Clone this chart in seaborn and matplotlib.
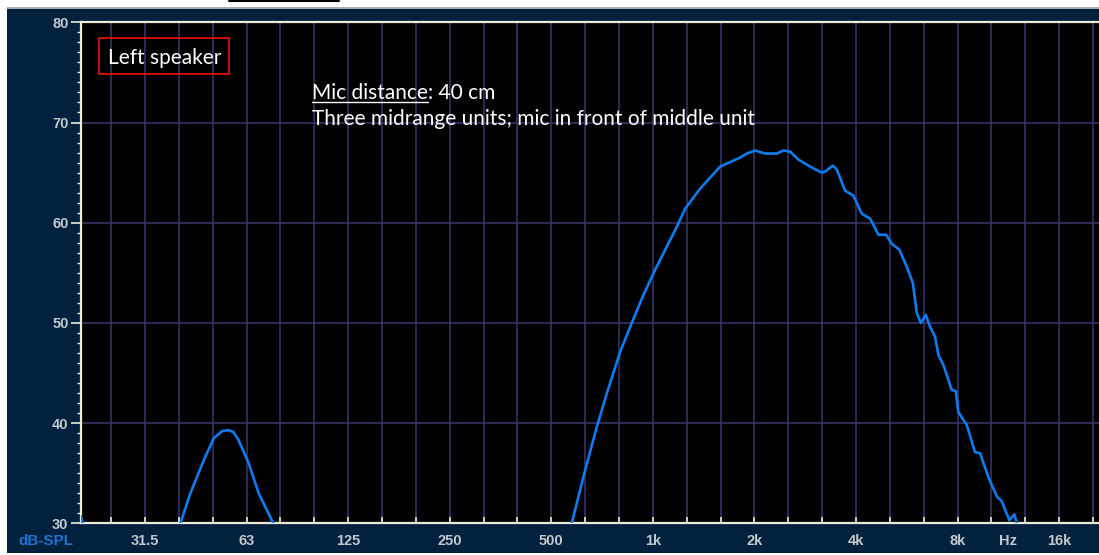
import matplotlib
matplotlib.use("Agg")
import numpy as np
import pandas as pd
import matplotlib.pyplot as plt
import seaborn as sns
from matplotlib.ticker import FixedLocator, MultipleLocator, NullFormatter
from matplotlib.patches import Rectangle
from matplotlib.lines import Line2D

# frequency response (Hz, dB-SPL)
freq_hz = [20.2, 21.5, 30, 38.5, 39.8, 42.6, 46.7, 50.0, 52.9, 55.3, 57.2, 59.2,
           63.4, 67.9, 70.2, 75.5, 80, 200, 500, 560, 575, 630, 682, 731, 800,
           866, 938, 1016, 1178, 1247, 1381, 1583, 1657, 1814, 1899, 2010, 2152,
           2331, 2438, 2552, 2700, 2860, 2924, 3168, 3240, 3414, 3509, 3714, 3929,
           4161, 4404, 4661, 4912, 5107, 5380, 5657, 5894, 6057, 6225, 6441, 6633,
           6863, 7019, 7263, 7691, 7903, 8044, 8519, 9015, 9327, 9870, 10451,
           10814, 11391, 11786, 11981, 12500, 21000]
spl_db = [30.7, 27.0, 25.0, 28.3, 30.0, 33.0, 36.3, 38.5, 39.2, 39.3, 39.1, 38.3,
          36.0, 33.0, 32.0, 29.8, 27.5, 24.0, 25.0, 28.5, 30.0, 35.3, 39.6, 43.0, 47.1,
          50.0, 52.8, 55.3, 59.6, 61.4, 63.4, 65.6, 65.9, 66.5, 66.9, 67.2, 66.9,
          66.9, 67.2, 67.1, 66.3, 65.8, 65.6, 65.0, 65.1, 65.7, 65.3, 63.2, 62.7,
          60.9, 60.4, 58.8, 58.8, 57.9, 57.3, 55.6, 54.0, 51.0, 50.0, 50.8, 49.6,
          48.6, 46.8, 45.8, 43.3, 43.2, 41.1, 39.8, 37.1, 37.0, 34.6, 32.7,
          32.2, 30.3, 30.9, 30.0, 28.0, 24.0]

octave_ticks = [31.25, 62.5, 125, 250, 500, 1000, 2000, 4000, 8000, 16000]
octave_labels = ["31.5", "63", "125", "250", "500", "1k", "2k", "4k", "8k", "16k"]
db_ticks = [30, 40, 50, 60, 70, 80]

W, H = 1099, 555
NAVY = "#02213f"
CREAM = "#ecebd8"
GRID = "#37376f"
CURVE = "#0c7cf0"
LABEL = "#c4c7cb"
NOTE_SIZE = 15


def fx(px):
    return px / W


def fy(py):
    return 1 - py / H


sns.set_style("dark")
plt.rcParams["font.family"] = ["Lato", "DejaVu Sans"]

fig = plt.figure(figsize=(W / 100, H / 100), dpi=100, facecolor="white")

# navy panel behind the graph, with a thin grey rim on top
fig.patches.append(Rectangle((fx(7), fy(553)), 1, (553 - 9) / H, transform=fig.transFigure,
                             facecolor=NAVY, edgecolor="none", zorder=-10))
fig.patches.append(Rectangle((fx(7), fy(9)), 1, 2.5 / H, transform=fig.transFigure,
                             facecolor="#a9adb2", edgecolor="none", zorder=-9))
fig.lines.append(Line2D([fx(229), fx(339)], [fy(1), fy(1)], transform=fig.transFigure,
                        color="black", linewidth=1.5))

ax = fig.add_axes([fx(81), fy(523.3), 1 - fx(81), (523.3 - 22.3) / H])
ax.set_facecolor("black")
ax.set_xscale("log")

df = pd.DataFrame({"freq": freq_hz, "spl": spl_db})
sns.lineplot(data=df, x="freq", y="spl", ax=ax, color=CURVE, linewidth=1.9,
             sort=False, estimator=None, zorder=3)

ax.set_xlim(20.2, 21000)
ax.set_ylim(30, 80)
ax.set_xlabel("")
ax.set_ylabel("")

# third-octave grid, labels on octaves
third_oct = [1000 * 2 ** (k / 3) for k in range(-17, 14) if k % 3 != 0]
ax.xaxis.set_major_locator(FixedLocator(octave_ticks))
ax.xaxis.set_minor_locator(FixedLocator(third_oct))
ax.xaxis.set_minor_formatter(NullFormatter())
ax.set_xticklabels(octave_labels)
ax.yaxis.set_major_locator(FixedLocator(db_ticks))
ax.yaxis.set_minor_locator(MultipleLocator(1))

ax.grid(which="both", axis="x", color=GRID, linewidth=1.1)
ax.grid(which="major", axis="y", color=GRID, linewidth=1.1)
ax.set_axisbelow(True)

for side in ["left", "bottom", "top"]:
    ax.spines[side].set_color(CREAM)
    ax.spines[side].set_linewidth(1.6)
    ax.spines[side].set_visible(True)
ax.spines["right"].set_visible(False)

tick_font = {"family": "Liberation Sans", "weight": "bold", "size": 10.5}
ax.tick_params(axis="x", which="both", direction="in", length=4, width=1.2,
               color=CREAM, labelcolor=LABEL, pad=8, bottom=True)
ax.tick_params(axis="y", which="major", direction="out", length=7, width=1.2,
               color=CREAM, labelcolor=LABEL, pad=2, left=True)
ax.tick_params(axis="y", which="minor", direction="out", length=3, width=1,
               color=CREAM, left=True)
for lab in ax.get_xticklabels() + ax.get_yticklabels():
    lab.set_fontproperties(tick_font)

ax.text(11314, -(541 - 523.3) / 501, "Hz", transform=ax.get_xaxis_transform(),
        ha="center", va="center", color=LABEL, **tick_font)
fig.text(fx(46), fy(541), "dB-SPL", ha="center", va="center", color="#1f74d2",
         family="Liberation Sans", weight="bold", size=11)

# annotations
fig.text(fx(108), fy(64), "Left speaker", color="white", size=NOTE_SIZE, va="baseline")
fig.patches.append(Rectangle((fx(99), fy(74)), (229 - 99) / W, (74 - 38) / H,
                             transform=fig.transFigure, facecolor="none",
                             edgecolor="#e01010", linewidth=1.3))
t_mic = fig.text(fx(312), fy(99.5), "Mic distance", color="white", size=NOTE_SIZE,
                 va="baseline")
fig.text(fx(312), fy(125), "Three midrange units; mic in front of middle unit",
         color="white", size=NOTE_SIZE, va="baseline")

fig.canvas.draw()
bb = t_mic.get_window_extent(fig.canvas.get_renderer())
fig.text(bb.x1 / W, fy(99.5), ": 40 cm", color="white", size=NOTE_SIZE, va="baseline")
fig.lines.append(Line2D([bb.x0 / W, bb.x1 / W], [fy(102), fy(102)],
                        transform=fig.transFigure, color="white", linewidth=1.0))

fig.savefig("out.png", dpi=100)
